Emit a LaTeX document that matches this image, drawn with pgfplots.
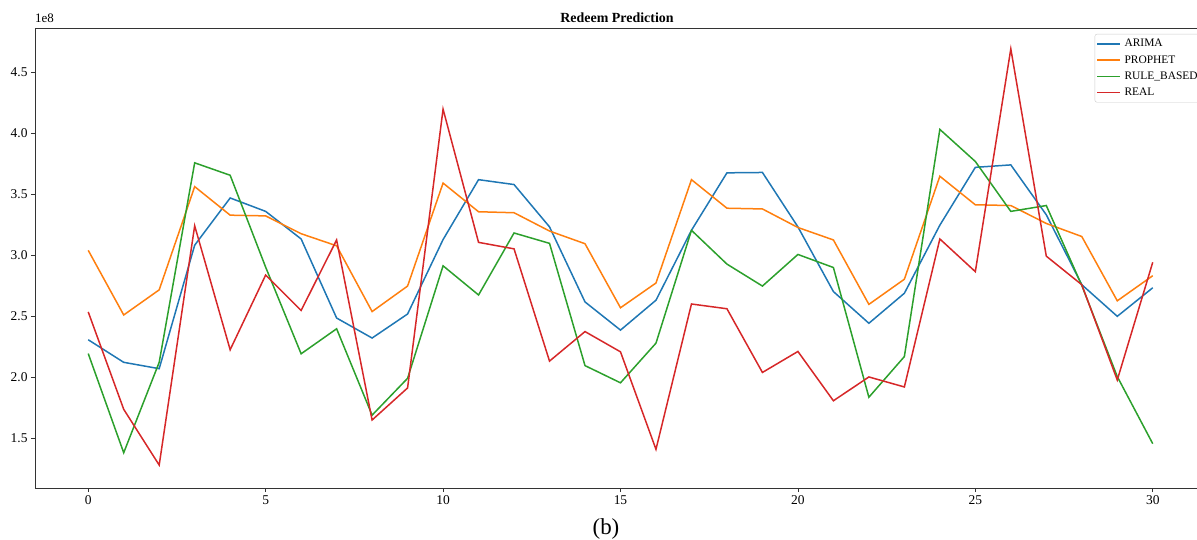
\documentclass[border=0pt]{standalone}
\usepackage{pgfplots}
\pgfplotsset{compat=1.18}
\usepackage{fontspec}
\setmainfont{Liberation Serif}
\definecolor{cB}{HTML}{1F77B4}
\definecolor{cO}{HTML}{FF7F0E}
\definecolor{cG}{HTML}{2CA02C}
\definecolor{cR}{HTML}{D62728}
\begin{document}
\begin{tikzpicture}[x=1bp,y=1bp]
\begin{axis}[
  at={(0,0)}, anchor=south west,
  scale only axis, width=1171bp, height=460bp,
  xmin=-1.5, xmax=31.5, ymin=1.09, ymax=4.86,
  xtick={0,5,10,15,20,25,30},
  ytick={1.5,2,2.5,3,3.5,4,4.5},
  xtick pos=left, ytick pos=left,
  tick align=outside,
  major tick length=4bp,
  axis line style={line width=0.9bp, draw=black!80},
  every tick/.style={line width=0.8bp, black!80},
  /pgf/number format/.cd, fixed, fixed zerofill, precision=1, assume math mode=true,
  /pgfplots/.cd,
  xticklabel style={font=\fontsize{13.5}{15}\selectfont, /pgf/number format/precision=0, /pgf/number format/fixed zerofill=false},
  yticklabel style={font=\fontsize{13.5}{15}\selectfont},
  legend style={at={(0.905,0.987)}, anchor=north west, draw=black!20, rounded corners=2bp,
    font=\fontsize{11.5}{13}\selectfont, inner sep=1.5bp, row sep=0bp,
    nodes={inner ysep=3.6bp, inner xsep=3.5bp}},
  legend cell align=left,
  legend image code/.code={\draw[#1, line width=1.6bp] (0bp,0bp) -- (23bp,0bp);},
  every axis plot/.append style={line width=1.5bp, mark=none},
]
\addplot[cB] coordinates {
(0,2.305)(1,2.12)(2,2.068)(3,3.08)(4,3.467)(5,3.357)(6,3.131)(7,2.483)(8,2.319)
(9,2.516)(10,3.126)(11,3.617)(12,3.577)(13,3.23)(14,2.615)(15,2.384)(16,2.629)(17,3.202)(18,3.673)(19,3.676)(20,3.23)
(21,2.70)(22,2.44)(23,2.686)(24,3.244)(25,3.718)(26,3.738)(27,3.329)(28,2.756)(29,2.497)(30,2.731)};
\addlegendentry{ARIMA}
\addplot[cO] coordinates {
(0,3.038)(1,2.508)(2,2.714)(3,3.56)(4,3.326)(5,3.32)(6,3.174)(7,3.075)(8,2.536)
(9,2.745)(10,3.589)(11,3.354)(12,3.346)(13,3.196)(14,3.092)(15,2.567)(16,2.77)(17,3.617)(18,3.383)(19,3.377)(20,3.225)
(21,3.123)(22,2.595)(23,2.801)(24,3.645)(25,3.411)(26,3.405)(27,3.258)(28,3.151)(29,2.624)(30,2.83)};
\addlegendentry{PROPHET}
\addplot[cG] coordinates {
(0,2.192)(1,1.379)(2,2.12)(3,3.755)(4,3.653)(5,2.90)(6,2.19)(7,2.395)(8,1.687)
(9,1.989)(10,2.911)(11,2.672)(12,3.18)(13,3.095)(14,2.093)(15,1.952)(16,2.277)(17,3.202)(18,2.925)(19,2.745)(20,3.004)
(21,2.897)(22,1.834)(23,2.167)(24,4.029)(25,3.766)(26,3.357)(27,3.405)(28,2.75)(29,2.003)(30,1.453)};
\addlegendentry{RULE\_BASED}
\addplot[cR] coordinates {
(0,2.533)(1,1.735)(2,1.278)(3,3.239)(4,2.223)(5,2.835)(6,2.545)(7,3.123)(8,1.647)
(9,1.91)(10,4.195)(11,3.103)(12,3.05)(13,2.13)(14,2.372)(15,2.206)(16,1.407)(17,2.598)(18,2.559)(19,2.037)(20,2.209)
(21,1.805)(22,2.0)(23,1.918)(24,3.131)(25,2.863)(26,4.689)(27,2.99)(28,2.756)(29,1.975)(30,2.94)};
\addlegendentry{REAL}
\end{axis}
\node[anchor=base west, inner sep=0pt, font=\fontsize{13}{15}\selectfont] at (0bp,465bp) {1e8};
\node[anchor=base, inner sep=0pt, font=\bfseries\fontsize{14}{16}\selectfont] at (582bp,465bp) {Redeem Prediction};
\node[anchor=base, inner sep=0pt, font=\fontsize{23}{26}\selectfont] at (571bp,-46bp) {(b)};
\pgfresetboundingbox
\useasboundingbox (-35bp,-52bp) rectangle (1162bp,488bp);
\end{tikzpicture}
\end{document}
